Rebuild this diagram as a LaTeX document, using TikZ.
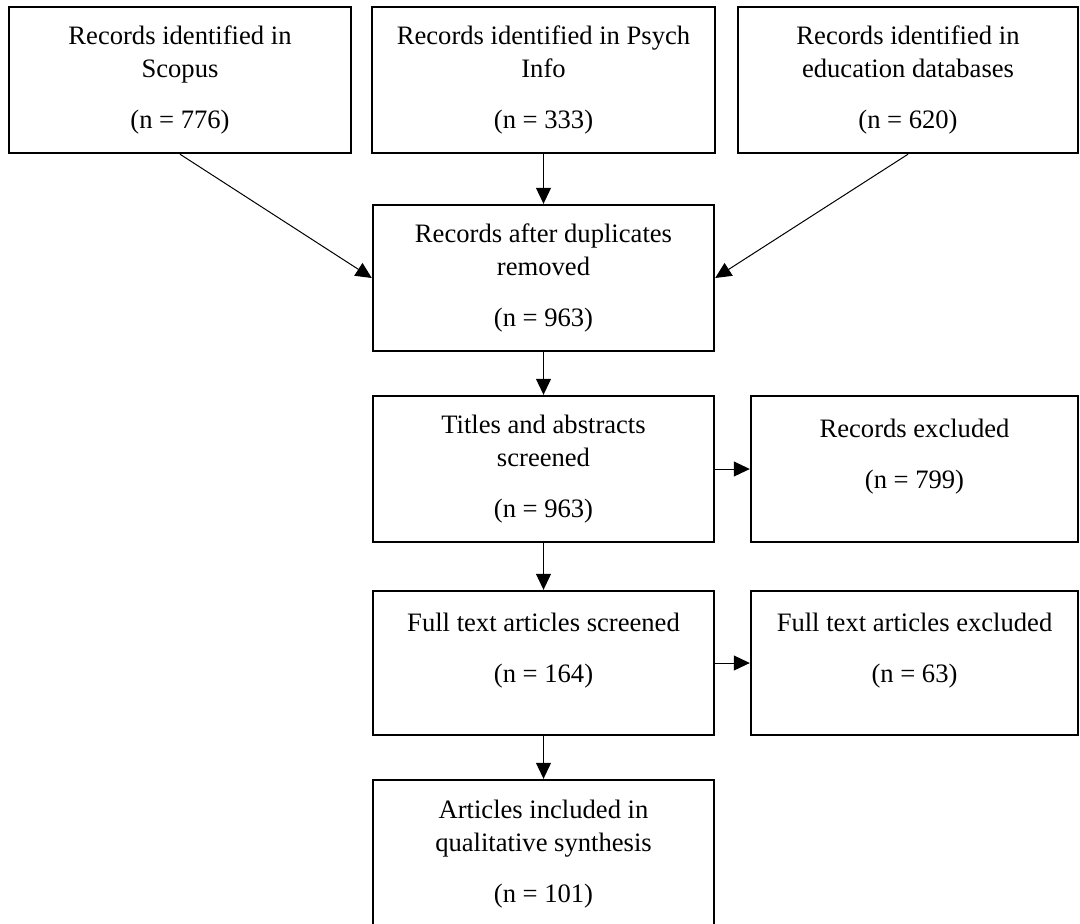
\documentclass[tikz,border=0pt]{standalone}
\usepackage{fontspec}
\setmainfont{Liberation Serif}
\usetikzlibrary{arrows.meta}
\tikzset{>={Triangle[length=8pt,width=7.5pt]}}
\tikzset{
  box/.style = {draw, line width=1.2pt, align=center, inner sep=0pt,
    minimum width=170.5pt, minimum height=73pt,
    font=\fontsize{13.3}{16.5}\selectfont},
  raised/.style = {text depth=15pt},
  link/.style = {->, line width=0.5pt}
}

\begin{document}
\begin{tikzpicture}[x=0.5pt,y=-0.5pt]
  \useasboundingbox (0,0) rectangle (1080,923);
  % identification
  \node[box, minimum width=171pt] (scopus) at (180,80)
    {Records identified in\\Scopus\\[9pt](n = 776)};
  \node[box, minimum width=171.5pt] (psych) at (543.5,80)
    {Records identified in Psych\\Info\\[9pt](n = 333)};
  \node[box, minimum width=170pt] (educ) at (908,80)
    {Records identified in\\education databases\\[9pt](n = 620)};
  % screening
  \node[box] (dedup) at (543.5,278)
    {Records after duplicates\\removed\\[9pt](n = 963)};
  \node[box] (screen) at (543.5,469)
    {Titles and abstracts\\screened\\[9pt](n = 963)};
  \node[box, raised, minimum width=163.5pt] (excl) at (914.5,469)
    {Records excluded\\[9pt](n = 799)};
  % eligibility
  \node[box, raised, minimum height=72pt] (fulltext) at (543.5,663)
    {Full text articles screened\\[9pt](n = 164)};
  \node[box, raised, minimum width=163.5pt, minimum height=72pt] (ftexcl) at (914.5,663)
    {Full text articles excluded\\[9pt](n = 63)};
  % included
  \node[box, minimum height=74pt] (incl) at (543.5,854)
    {Articles included in\\qualitative synthesis\\[9pt](n = 101)};
  % arrows
  \draw[link] (scopus.south) -- (dedup.west);
  \draw[link] (psych.south) -- (dedup.north);
  \draw[link] (educ.south) -- (dedup.east);
  \draw[link] (dedup) -- (screen);
  \draw[link] (screen) -- (excl);
  \draw[link] (screen) -- (fulltext);
  \draw[link] (fulltext) -- (ftexcl);
  \draw[link] (fulltext) -- (incl);
\end{tikzpicture}
\end{document}
